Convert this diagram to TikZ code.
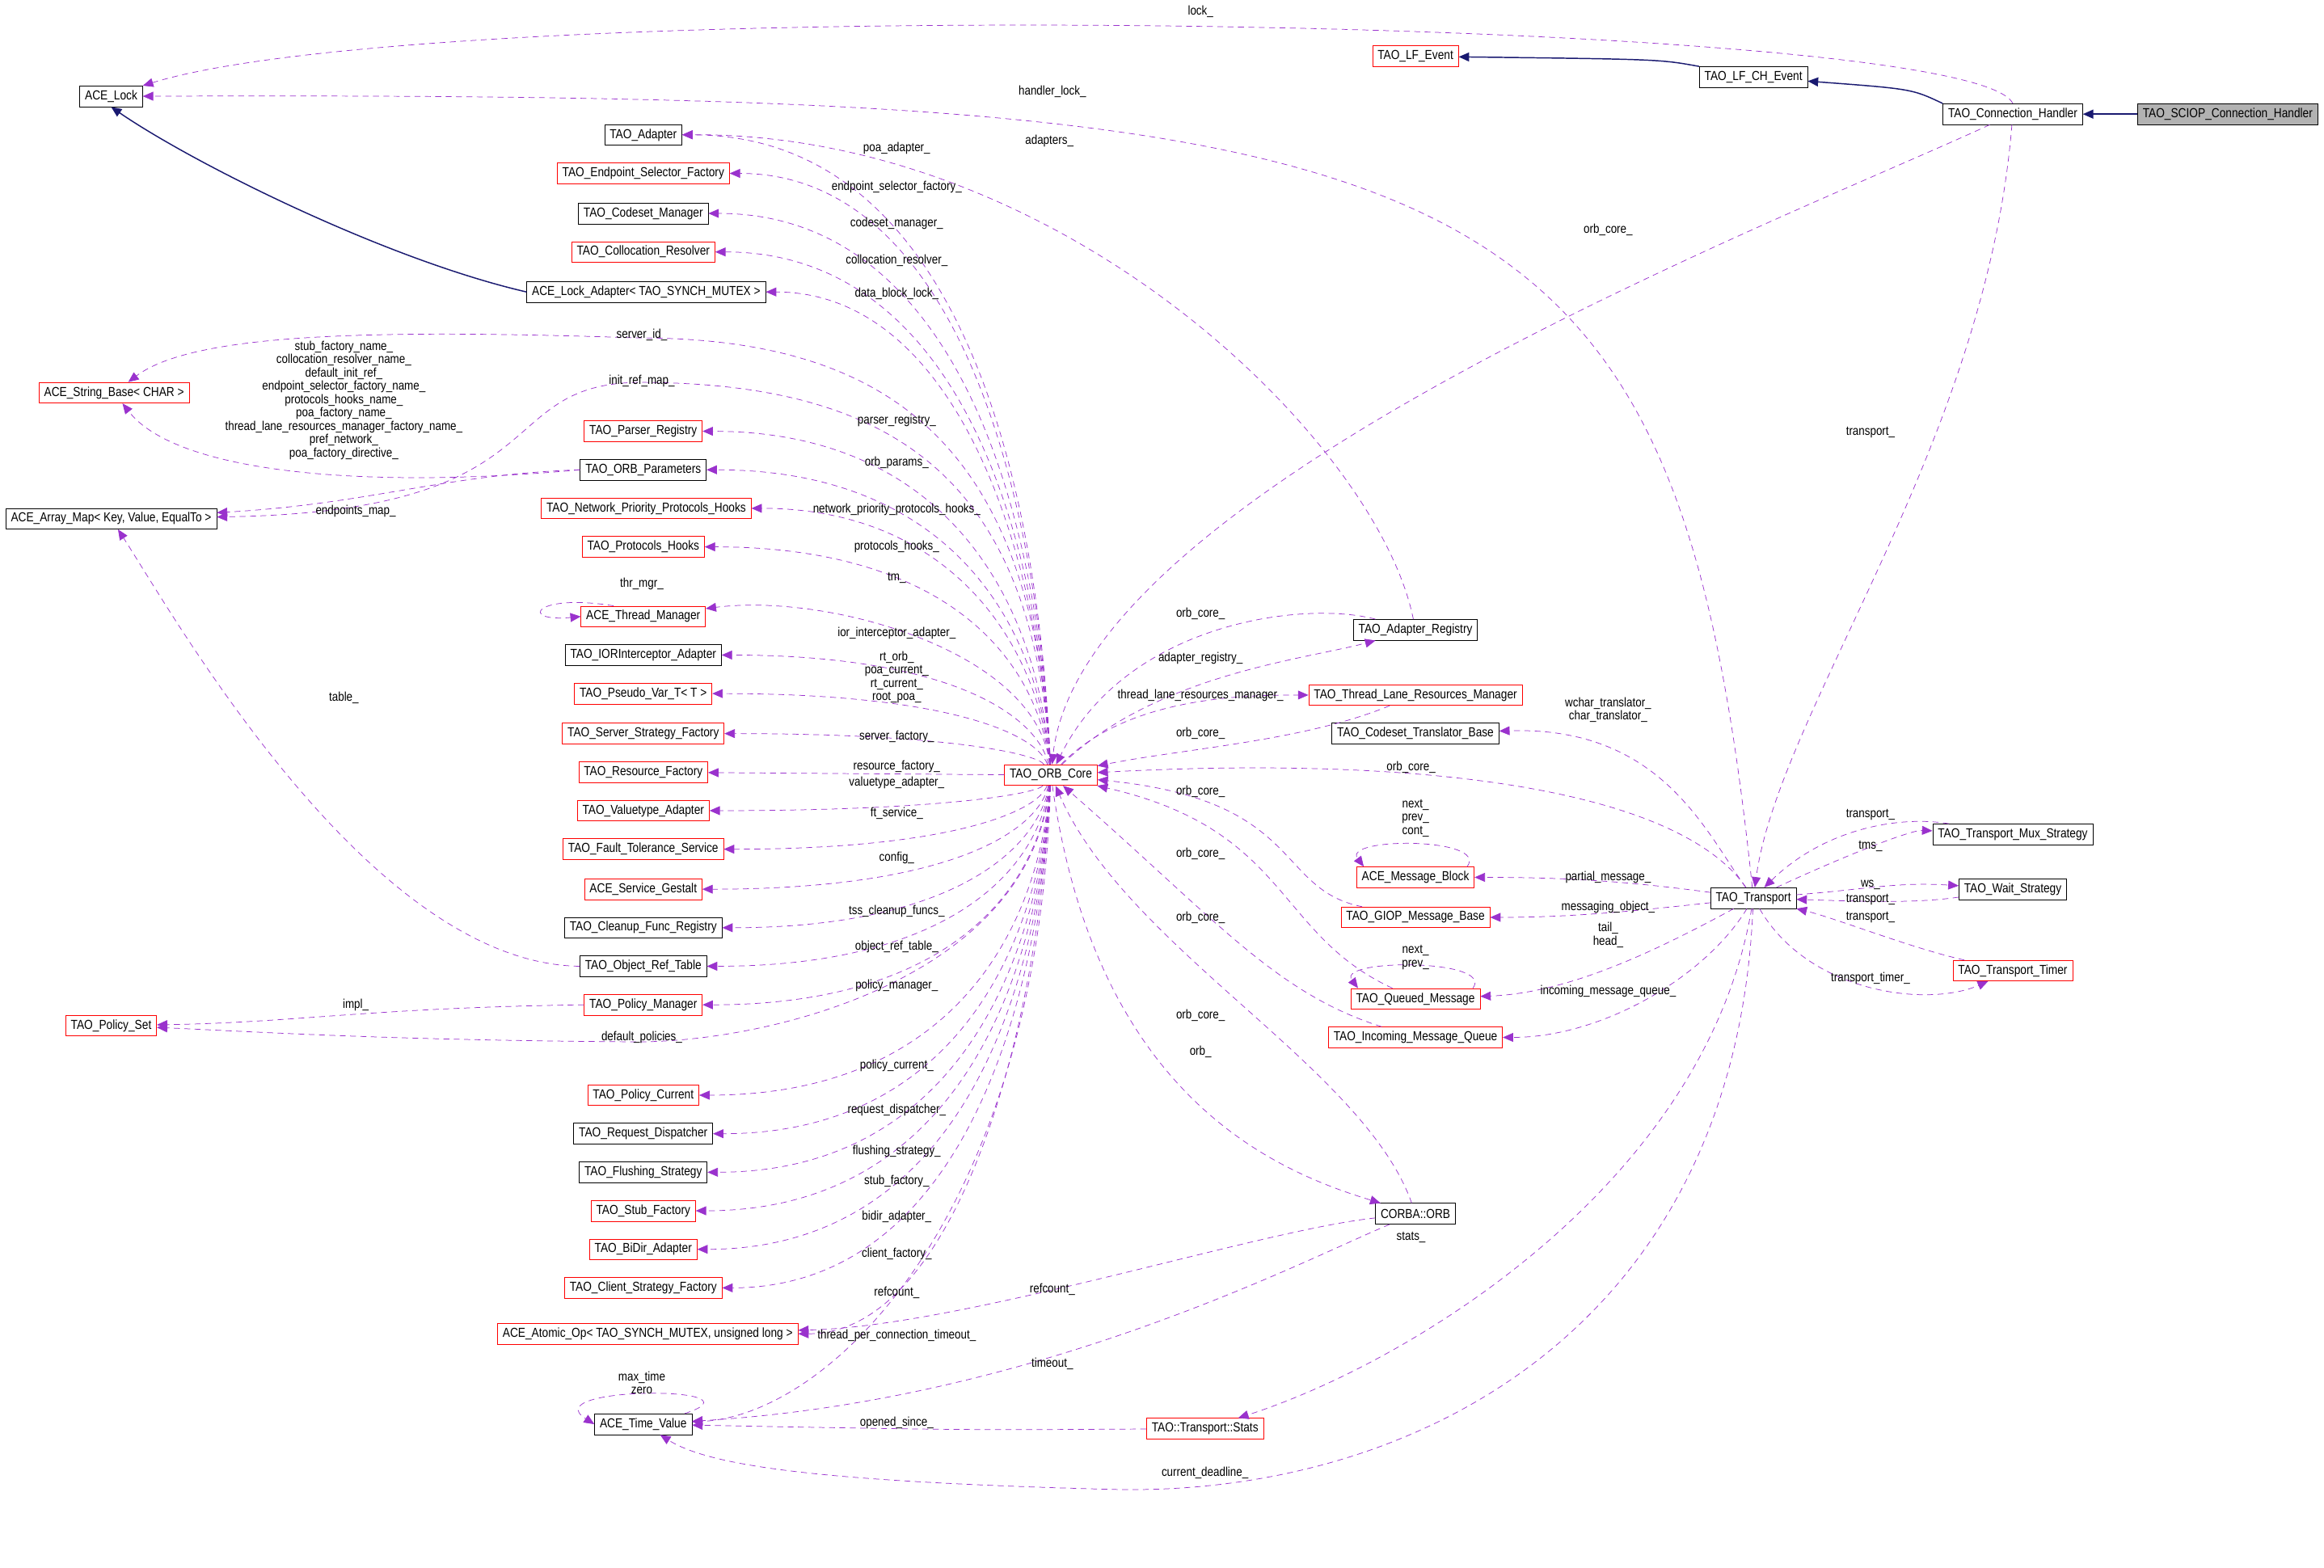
\documentclass[tikz,border=0pt]{standalone}
\usepackage{fontspec}
\setmainfont{Liberation Sans}[FakeStretch=0.85]
\usetikzlibrary{arrows.meta}
\definecolor{dep}{RGB}{154,50,205}
\definecolor{inh}{RGB}{25,25,112}
\begin{document}
\begin{tikzpicture}[x=1pt,y=-1pt,
  cls/.style={draw=black,fill=white,inner xsep=3.5pt,inner ysep=0pt,minimum height=14pt,font=\fontsize{8.8}{9}\selectfont},
  red/.style={cls,draw=red},
  lbl/.style={font=\fontsize{8.6}{9}\selectfont,align=center,inner sep=0pt},
  dep/.style={draw=dep,dash pattern=on 4pt off 3pt,-{Triangle[length=7pt,width=6pt]},fill=none},
  inh/.style={draw=inh,thick,-{Triangle[length=7pt,width=6pt,fill=inh]}}]
\useasboundingbox (0,0) rectangle (1568,1058);
% nodes
\node[cls] (acelock) at (75,65) {ACE\_Lock};
\node[red] (lfev) at (955,38) {TAO\_LF\_Event};
\node[cls] (lfch) at (1183,52) {TAO\_LF\_CH\_Event};
\node[cls] (conn) at (1358,77) {TAO\_Connection\_Handler};
\node[cls,fill=black!30] (sciop) at (1503,77) {TAO\_SCIOP\_Connection\_Handler};
\node[cls] (adapter) at (434,91) {TAO\_Adapter};
\node[red] (esf) at (434,117) {TAO\_Endpoint\_Selector\_Factory};
\node[cls] (csm) at (434,144) {TAO\_Codeset\_Manager};
\node[red] (colres) at (434,170) {TAO\_Collocation\_Resolver};
\node[cls] (lockad) at (436,197) {ACE\_Lock\_Adapter< TAO\_SYNCH\_MUTEX >};
\node[red] (strbase) at (77,265) {ACE\_String\_Base< CHAR >};
\node[red] (parser) at (434,291) {TAO\_Parser\_Registry};
\node[cls] (params) at (434,317) {TAO\_ORB\_Parameters};
\node[cls] (arrmap) at (75,350) {ACE\_Array\_Map< Key, Value, EqualTo >};
\node[red] (nph) at (436,343) {TAO\_Network\_Priority\_Protocols\_Hooks};
\node[red] (ph) at (434,369) {TAO\_Protocols\_Hooks};
\node[red] (thrmgr) at (434,416) {ACE\_Thread\_Manager};
\node[cls] (ior) at (434,442) {TAO\_IORInterceptor\_Adapter};
\node[red] (pseudo) at (434,468) {TAO\_Pseudo\_Var\_T< T >};
\node[red] (ssf) at (434,495) {TAO\_Server\_Strategy\_Factory};
\node[red] (resf) at (434,521) {TAO\_Resource\_Factory};
\node[red] (vta) at (434,547) {TAO\_Valuetype\_Adapter};
\node[red] (fts) at (434,573) {TAO\_Fault\_Tolerance\_Service};
\node[red] (gest) at (434,600) {ACE\_Service\_Gestalt};
\node[cls] (cfr) at (434,626) {TAO\_Cleanup\_Func\_Registry};
\node[cls] (ort) at (434,652) {TAO\_Object\_Ref\_Table};
\node[red] (pm) at (434,678) {TAO\_Policy\_Manager};
\node[red] (pset) at (75,692) {TAO\_Policy\_Set};
\node[red] (pc) at (434,739) {TAO\_Policy\_Current};
\node[cls] (rd) at (434,765) {TAO\_Request\_Dispatcher};
\node[cls] (fs) at (434,791) {TAO\_Flushing\_Strategy};
\node[red] (stubf) at (434,817) {TAO\_Stub\_Factory};
\node[red] (bidir) at (434,843) {TAO\_BiDir\_Adapter};
\node[red] (csf) at (434,869) {TAO\_Client\_Strategy\_Factory};
\node[red] (atomic) at (437,900) {ACE\_Atomic\_Op< TAO\_SYNCH\_MUTEX, unsigned long >};
\node[cls] (tv) at (434,961) {ACE\_Time\_Value};
\node[red] (core) at (709,523) {TAO\_ORB\_Core};
\node[cls] (adreg) at (955,425) {TAO\_Adapter\_Registry};
\node[red] (tlrm) at (955,469) {TAO\_Thread\_Lane\_Resources\_Manager};
\node[cls] (ctb) at (955,495) {TAO\_Codeset\_Translator\_Base};
\node[red] (mb) at (955,592) {ACE\_Message\_Block};
\node[red] (giop) at (955,619) {TAO\_GIOP\_Message\_Base};
\node[red] (qm) at (955,674) {TAO\_Queued\_Message};
\node[red] (imq) at (955,700) {TAO\_Incoming\_Message\_Queue};
\node[cls] (orb) at (955,819) {CORBA::ORB};
\node[red] (stats) at (813,964) {TAO::Transport::Stats};
\node[cls] (tr) at (1183,606) {TAO\_Transport};
\node[cls] (mux) at (1358,563) {TAO\_Transport\_Mux\_Strategy};
\node[cls] (ws) at (1358,600) {TAO\_Wait\_Strategy};
\node[red] (tt) at (1358,655) {TAO\_Transport\_Timer};
% inheritance
\draw[inh] (sciop) -- (conn);
\draw[inh] (conn.north west) .. controls (1290,60) .. (lfch);
\draw[inh] (lfch.north west) .. controls (1120,40) .. (lfev);
\draw[inh] (lockad.west) .. controls (260,175) and (130,110) .. (acelock.south);
% core -> left column
\foreach \t/\y in {adapter/91,esf/117,csm/144,colres/170,lockad/197,parser/291,params/317,nph/343,ph/369,ior/442,pseudo/468,ssf/495}
  \draw[dep] (core) .. controls (700,{(\y+523)/2}) and (640,\y) .. (\t);
\foreach \t/\y in {vta/547,fts/573,gest/600,cfr/626,ort/652,pm/678,pc/739,rd/765,fs/791,stubf/817,bidir/843,csf/869,atomic/900}
  \draw[dep] (core) .. controls (700,{(\y+523)/2}) and (640,\y) .. (\t);
\draw[dep] (core) -- (resf);
\draw[dep] (core) .. controls (700,440) and (560,400) .. (thrmgr);
\draw[dep] (core) .. controls (697,300) and (600,228) .. (430,228) .. controls (250,222) and (130,225) .. (strbase);
\draw[dep] (core) .. controls (697,320) and (600,258) .. (430,258) .. controls (330,260) and (380,345) .. (arrmap);
\draw[dep] (core) .. controls (695,660) and (520,703) .. (430,703) .. controls (260,702) and (170,696) .. (pset);
\draw[dep] (core) .. controls (700,820) and (560,955) .. (tv);
% left side other
\draw[dep] (params.west) .. controls (250,330) and (120,320) .. (strbase);
\draw[dep] (params.west) .. controls (300,320) and (250,340) .. (arrmap);
\draw[dep] (ort.west) .. controls (250,650) and (120,420) .. (arrmap);
\draw[dep] (pm.west) .. controls (250,680) and (200,690) .. (pset);
\draw[dep] ([xshift=-20]thrmgr.north) .. controls (360,400) and (350,420) .. (thrmgr.west);
\draw[dep] ([xshift=28]tv.north) .. controls (520,935) and (360,935) .. (tv.west);
% top
\draw[dep] (conn.north) .. controls (1330,10) and (300,-5) .. (acelock.north east);
\draw[dep] (tr) .. controls (1130,100) and (1000,62) .. (acelock);
\draw[dep] (adreg) .. controls (930,300) and (720,90) .. (adapter);
\draw[dep] (conn) .. controls (1200,150) and (730,330) .. (core);
\draw[dep] (conn) .. controls (1340,300) and (1200,480) .. (tr);
% middle
\draw[dep] (core) .. controls (780,455) and (880,445) .. (adreg);
\draw[dep] (adreg) .. controls (880,405) and (760,420) .. (core);
\draw[dep] (core) .. controls (760,470) and (840,469) .. (tlrm);
\draw[dep] (tlrm) .. controls (880,500) and (800,505) .. (core);
\draw[dep] (tr) .. controls (1130,530) and (950,510) .. (core);
\draw[dep] (giop) .. controls (860,600) and (880,540) .. (core);
\draw[dep] (qm) .. controls (860,630) and (870,560) .. (core);
\draw[dep] (imq) .. controls (860,670) and (820,620) .. (core);
\draw[dep] (orb) .. controls (920,720) and (760,640) .. (core);
\draw[dep] (core) .. controls (740,740) and (860,790) .. (orb);
\draw[dep] ([xshift=-5]mb.north east) .. controls +(15,-20) and +(-15,-20) .. ([xshift=5]mb.north west);
\draw[dep] ([xshift=-5]qm.north east) .. controls +(15,-20) and +(-15,-20) .. ([xshift=5]qm.north west);
% transport
\draw[dep] (tr) .. controls (1150,560) and (1120,490) .. (ctb);
\draw[dep] (tr) .. controls (1100,595) and (1060,592) .. (mb);
\draw[dep] (tr) .. controls (1100,615) and (1060,619) .. (giop);
\draw[dep] (tr) .. controls (1120,640) and (1060,670) .. (qm);
\draw[dep] (tr) .. controls (1150,660) and (1080,700) .. (imq);
\draw[dep] (tr) .. controls (1250,575) and (1290,560) .. (mux);
\draw[dep] (mux) .. controls (1280,550) and (1230,560) .. (tr);
\draw[dep] (tr) .. controls (1260,600) and (1280,595) .. (ws);
\draw[dep] (ws) .. controls (1290,610) and (1250,608) .. (tr);
\draw[dep] (tt) .. controls (1290,640) and (1240,620) .. (tr);
\draw[dep] (tr) .. controls (1220,670) and (1300,680) .. (tt);
\draw[dep] (tr) .. controls (1150,800) and (950,920) .. (stats);
\draw[dep] (tr) .. controls (1170,900) and (950,1010) .. (750,1005) .. controls (560,1000) and (480,990) .. (tv);
\draw[dep] (stats) .. controls (650,965) .. (tv);
\draw[dep] (orb) .. controls (880,850) and (700,945) .. (tv);
\draw[dep] (orb) .. controls (850,830) and (650,895) .. (atomic);
% labels
\node[lbl] at (810,8) {lock\_};
\node[lbl] at (710,62) {handler\_lock\_};
\node[lbl] at (708,95) {adapters\_};
\node[lbl] at (1085,155) {orb\_core\_};
\node[lbl] at (1262,292) {transport\_};
\node[lbl] at (605,100) {poa\_adapter\_};
\node[lbl] at (605,126) {endpoint\_selector\_factory\_};
\node[lbl] at (605,151) {codeset\_manager\_};
\node[lbl] at (605,176) {collocation\_resolver\_};
\node[lbl] at (605,198) {data\_block\_lock\_};
\node[lbl] at (433,226) {server\_id\_};
\node[lbl] at (433,257) {init\_ref\_map\_};
\node[lbl] at (232,270) {stub\_factory\_name\_\\collocation\_resolver\_name\_\\default\_init\_ref\_\\endpoint\_selector\_factory\_name\_\\protocols\_hooks\_name\_\\poa\_factory\_name\_\\thread\_lane\_resources\_manager\_factory\_name\_\\pref\_network\_\\poa\_factory\_directive\_};
\node[lbl] at (240,345) {endpoints\_map\_};
\node[lbl] at (232,471) {table\_};
\node[lbl] at (240,678) {impl\_};
\node[lbl] at (605,284) {parser\_registry\_};
\node[lbl] at (605,312) {orb\_params\_};
\node[lbl] at (605,344) {network\_priority\_protocols\_hooks\_};
\node[lbl] at (605,369) {protocols\_hooks\_};
\node[lbl] at (433,394) {thr\_mgr\_};
\node[lbl] at (605,390) {tm\_};
\node[lbl] at (605,427) {ior\_interceptor\_adapter\_};
\node[lbl] at (605,457) {rt\_orb\_\\poa\_current\_\\rt\_current\_\\root\_poa\_};
\node[lbl] at (605,497) {server\_factory\_};
\node[lbl] at (605,517) {resource\_factory\_};
\node[lbl] at (605,528) {valuetype\_adapter\_};
\node[lbl] at (605,549) {ft\_service\_};
\node[lbl] at (605,579) {config\_};
\node[lbl] at (605,615) {tss\_cleanup\_funcs\_};
\node[lbl] at (605,639) {object\_ref\_table\_};
\node[lbl] at (605,665) {policy\_manager\_};
\node[lbl] at (433,700) {default\_policies\_};
\node[lbl] at (605,719) {policy\_current\_};
\node[lbl] at (605,749) {request\_dispatcher\_};
\node[lbl] at (605,777) {flushing\_strategy\_};
\node[lbl] at (605,797) {stub\_factory\_};
\node[lbl] at (605,821) {bidir\_adapter\_};
\node[lbl] at (605,846) {client\_factory\_};
\node[lbl] at (605,872) {refcount\_};
\node[lbl] at (605,901) {thread\_per\_connection\_timeout\_};
\node[lbl] at (433,933) {max\_time\\zero};
\node[lbl] at (605,960) {opened\_since\_};
\node[lbl] at (813,994) {current\_deadline\_};
\node[lbl] at (710,920) {timeout\_};
\node[lbl] at (710,870) {refcount\_};
\node[lbl] at (952,835) {stats\_};
\node[lbl] at (810,414) {orb\_core\_};
\node[lbl] at (810,444) {adapter\_registry\_};
\node[lbl] at (810,469) {thread\_lane\_resources\_manager\_};
\node[lbl] at (810,495) {orb\_core\_};
\node[lbl] at (952,518) {orb\_core\_};
\node[lbl] at (810,534) {orb\_core\_};
\node[lbl] at (810,576) {orb\_core\_};
\node[lbl] at (810,619) {orb\_core\_};
\node[lbl] at (810,685) {orb\_core\_};
\node[lbl] at (810,710) {orb\_};
\node[lbl] at (955,552) {next\_\\prev\_\\cont\_};
\node[lbl] at (955,646) {next\_\\prev\_};
\node[lbl] at (1085,479) {wchar\_translator\_\\char\_translator\_};
\node[lbl] at (1085,592) {partial\_message\_};
\node[lbl] at (1085,612) {messaging\_object\_};
\node[lbl] at (1085,631) {tail\_\\head\_};
\node[lbl] at (1085,669) {incoming\_message\_queue\_};
\node[lbl] at (1262,550) {transport\_};
\node[lbl] at (1262,571) {tms\_};
\node[lbl] at (1262,597) {ws\_};
\node[lbl] at (1262,607) {transport\_};
\node[lbl] at (1262,619) {transport\_};
\node[lbl] at (1262,660) {transport\_timer\_};
\end{tikzpicture}
\end{document}
